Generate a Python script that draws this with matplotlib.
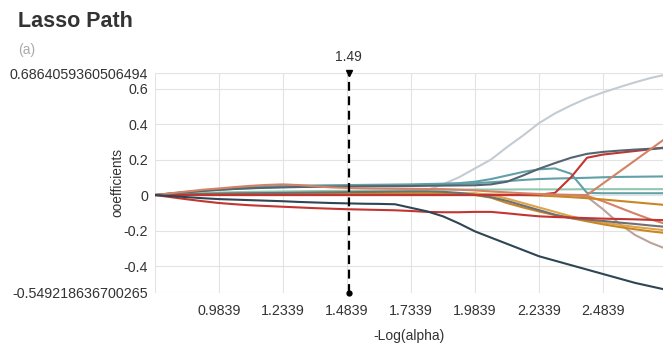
import numpy as np
import matplotlib
matplotlib.use('Agg')
import matplotlib.pyplot as plt

plt.rcParams['font.family'] = ['Liberation Sans', 'DejaVu Sans']

# -log(alpha) sample points shared by all paths
neg_log_alpha = [0.7339, 0.7964, 0.8589, 0.9214, 0.9839, 1.0464, 1.1089, 1.1714,
                 1.2339, 1.2964, 1.3589, 1.4214, 1.4839, 1.5464, 1.6089, 1.6714,
                 1.7339, 1.7964, 1.8589, 1.9214, 1.9839, 2.0464, 2.1089, 2.1714,
                 2.2339, 2.2964, 2.3589, 2.4214, 2.4839, 2.5464, 2.6089, 2.6714, 2.7339]

dark_down = [0, -0.006, -0.012, -0.018, -0.023, -0.026, -0.029, -0.032, -0.035, -0.039, -0.042,
             -0.045, -0.047, -0.049, -0.05, -0.052, -0.072, -0.092, -0.12, -0.16, -0.205, -0.24,
             -0.275, -0.31, -0.345, -0.37, -0.395, -0.42, -0.445, -0.47, -0.495, -0.515, -0.535]
red_down = [0, -0.012, -0.024, -0.035, -0.045, -0.052, -0.058, -0.062, -0.066, -0.07, -0.074,
            -0.077, -0.08, -0.082, -0.084, -0.086, -0.09, -0.095, -0.097, -0.097, -0.095, -0.095,
            -0.103, -0.112, -0.12, -0.124, -0.127, -0.13, -0.133, -0.135, -0.137, -0.14, -0.142]
gray_up = [0, 0.002, 0.004, 0.006, 0.008, 0.009, 0.01, 0.011, 0.012, 0.012, 0.012, 0.011, 0.01,
           0.008, 0.006, 0.004, 0.01, 0.028, 0.06, 0.1, 0.15, 0.2, 0.27, 0.335, 0.405, 0.46, 0.505,
           0.545, 0.578, 0.607, 0.635, 0.66, 0.68]
salmon = [0, 0.01, 0.02, 0.03, 0.037, 0.045, 0.052, 0.057, 0.06, 0.056, 0.049, 0.043, 0.04, 0.038,
          0.037, 0.036, 0.035, 0.034, 0.033, 0.03, 0.026, 0.02, 0.015, 0.01, 0.006, 0.003, 0.001,
          0.0, 0.065, 0.13, 0.195, 0.26, 0.325]
teal_flat = [0, 0.008, 0.016, 0.024, 0.03, 0.035, 0.039, 0.042, 0.045, 0.047, 0.048, 0.049, 0.05,
             0.051, 0.052, 0.053, 0.055, 0.057, 0.06, 0.063, 0.067, 0.072, 0.078, 0.085, 0.09,
             0.093, 0.095, 0.097, 0.1, 0.102, 0.103, 0.104, 0.105]
teal_bump = [0, 0.009, 0.018, 0.026, 0.033, 0.039, 0.044, 0.048, 0.051, 0.053, 0.054, 0.055, 0.056,
             0.057, 0.058, 0.059, 0.06, 0.062, 0.064, 0.067, 0.075, 0.09, 0.11, 0.13, 0.145, 0.15,
             0.12, 0.012, 0.01, 0.01, 0.01, 0.01, 0.01]
slate_up = [0, 0.008, 0.016, 0.023, 0.029, 0.034, 0.038, 0.041, 0.043, 0.045, 0.046, 0.047, 0.048,
            0.049, 0.05, 0.05, 0.051, 0.052, 0.053, 0.054, 0.055, 0.06, 0.075, 0.11, 0.148, 0.18,
            0.21, 0.232, 0.243, 0.25, 0.256, 0.261, 0.265]
red_up = [0, 0, 0, 0, 0, 0, 0, 0, 0, 0, 0, 0, 0, 0, 0, 0, 0, 0, 0, 0, 0, 0, 0, 0, 0.002, 0.012,
          0.1, 0.21, 0.228, 0.238, 0.248, 0.258, 0.27]
green = [0, 0.004, 0.008, 0.011, 0.014, 0.016, 0.018, 0.019, 0.02, 0.021, 0.022, 0.023, 0.024,
         0.025, 0.026, 0.027, 0.028, 0.029, 0.03, 0.03, 0.031, 0.031, 0.031, 0.032, 0.032, 0.032,
         0.032, 0.033, 0.033, 0.033, 0.033, 0.033, 0.033]
gold_flat = [0, 0.001, 0.002, 0.003, 0.004, 0.004, 0.005, 0.005, 0.005, 0.005, 0.005, 0.005, 0.005,
             0.005, 0.005, 0.005, 0.005, 0.005, 0.005, 0.005, 0.004, 0.003, 0.002, 0.0, -0.003,
             -0.007, -0.012, -0.018, -0.025, -0.033, -0.041, -0.049, -0.057]
gray_down = [0, 0.002, 0.004, 0.006, 0.008, 0.009, 0.01, 0.011, 0.012, 0.013, 0.014, 0.015, 0.016,
             0.017, 0.018, 0.019, 0.02, 0.02, 0.018, 0.012, 0.002, -0.012, -0.033, -0.059, -0.085,
             -0.111, -0.13, -0.138, -0.146, -0.155, -0.163, -0.172, -0.18]
gold_down = [0, 0.002, 0.004, 0.005, 0.006, 0.007, 0.008, 0.008, 0.008, 0.008, 0.008, 0.008, 0.008,
             0.008, 0.008, 0.008, 0.008, 0.008, 0.007, 0.005, 0.0, -0.015, -0.045, -0.07, -0.093,
             -0.113, -0.13, -0.148, -0.165, -0.18, -0.193, -0.205, -0.215]
orange_down = [0, 0.003, 0.005, 0.007, 0.008, 0.009, 0.01, 0.01, 0.01, 0.01, 0.01, 0.01, 0.01, 0.01,
               0.01, 0.01, 0.01, 0.01, 0.01, 0.01, 0.01, 0.0, -0.02, -0.045, -0.07, -0.095, -0.12,
               -0.14, -0.155, -0.168, -0.18, -0.19, -0.2]
tan_down = [0, 0, 0, 0, 0, 0, 0, 0, 0, 0, 0, 0, 0, 0, 0, 0, 0, 0, 0, 0, 0, 0, 0, 0, 0, 0, 0,
            -0.01, -0.08, -0.16, -0.225, -0.27, -0.305]
pink_down = [0, 0, 0, 0, 0, 0, 0, 0, 0, 0, 0, 0, 0, 0, 0, 0, 0, 0, 0, 0, 0, 0, 0, 0, 0, 0, 0,
             -0.005, -0.035, -0.07, -0.105, -0.138, -0.165]

paths = [
    (gray_up, '#c4ccd3'), (tan_down, '#bda29a'), (pink_down, '#d48265'),
    (green, '#91c7ae'), (gold_flat, '#ca8622'), (orange_down, '#e0a448'),
    (gold_down, '#ca8622'), (gray_down, '#6e7074'), (teal_flat, '#61a0a8'),
    (teal_bump, '#61a0a8'), (red_up, '#c23531'), (slate_up, '#546570'),
    (salmon, '#d48265'), (red_down, '#c23531'), (dark_down, '#2f4554'),
]

best_alpha = 1.49
y_min = -0.549218636700265
y_max = 0.6864059360506494
x_ticks = [0.7339, 0.9839, 1.2339, 1.4839, 1.7339, 1.9839, 2.2339, 2.4839]
x_labels = ['', '0.9839', '1.2339', '1.4839', '1.7339', '1.9839', '2.2339', '2.4839']
y_ticks = [y_min, -0.4, -0.2, 0, 0.2, 0.4, 0.6, y_max]
y_labels = ['-0.549218636700265', '-0.4', '-0.2', '0', '0.2', '0.4', '0.6', '0.6864059360506494']

fig = plt.figure(figsize=(6.63, 3.46), dpi=100)
ax = fig.add_axes([155/663, 1-292.5/346, 508/663, 219.3/346])

for vals, col in paths:
    ax.plot(neg_log_alpha, vals, color=col, lw=1.5, solid_joinstyle='round', zorder=3)

ax.plot([best_alpha, best_alpha], [y_min, y_max], color='black', lw=1.6,
        linestyle=(0, (4, 2.5)), zorder=5, clip_on=False)
ax.plot([best_alpha], [y_max], marker='v', color='black', ms=5, zorder=6, clip_on=False)
ax.plot([best_alpha], [y_min], marker='o', color='black', ms=3.5, zorder=6, clip_on=False)
ax.text(best_alpha, y_max + 0.09, '1.49', ha='center', va='center', fontsize=10, color='#333333')

ax.set_xlim(0.7339, 0.7339 + 508/256)
ax.set_ylim(y_min, y_max)
ax.set_xticks(x_ticks)
ax.set_xticklabels(x_labels)
ax.set_yticks(y_ticks)
ax.set_yticklabels(y_labels)
ax.tick_params(length=0, labelsize=10.3, labelcolor='#333333')
ax.tick_params(axis='x', pad=8)
ax.tick_params(axis='y', pad=5)
ax.grid(True, color='#e3e3e3', lw=0.8)
ax.set_axisbelow(True)
for s in ax.spines.values():
    s.set_visible(False)

ax.set_xlabel('-Log(alpha)', fontsize=10, color='#333333', va='center')
ax.xaxis.set_label_coords(0.5, -43.5/219.3)
ax.set_ylabel('ooefficients', fontsize=9.8, color='#333333', va='center')
ax.yaxis.set_label_coords(-38/508, 0.5)

fig.text(18/663, 1-27/346, 'Lasso Path', fontsize=15.5, fontweight='bold', color='#333333',
         ha='left', va='baseline')
fig.text(18/663, 1-50/346, '(a)', fontsize=10, color='#aaaaaa', ha='left', va='center')

fig.savefig('out.png', dpi=100)
